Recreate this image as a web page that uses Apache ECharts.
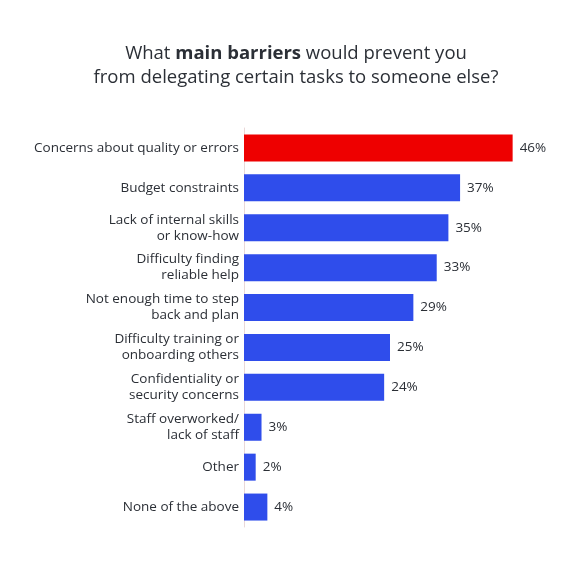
<!DOCTYPE html>
<html>
<head>
<meta charset="utf-8">
<script src="https://cdn.jsdelivr.net/npm/echarts@6/dist/echarts.min.js"></script>
<style>
  html, body { margin: 0; padding: 0; background: #fff; }
  #chart { width: 575px; height: 575px; }
</style>
</head>
<body>
<div id="chart"></div>
<script>
// categories top to bottom
const categories = [
  "Concerns about quality or errors",
  "Budget constraints",
  "Lack of internal skills\nor know-how",
  "Difficulty finding\nreliable help",
  "Not enough time to step\nback and plan",
  "Difficulty training or\nonboarding others",
  "Confidentiality or\nsecurity concerns",
  "Staff overworked/\nlack of staff",
  "Other",
  "None of the above"
];
const values = [46, 37, 35, 33, 29, 25, 24, 3, 2, 4];
const highlightIndex = 0;

const RED = "#ee0000";
const BLUE = "#2f4deb";
const TEXT = "#2b2f36";
const FONT = "Open Sans";

let chart = echarts.init(document.getElementById("chart"));

const options = {
  backgroundColor: "#fff",
  animation: false,
  title: {
    left: 291,
    textAlign: "center",
    top: 37,
    text: "{n|What }{b|main barriers}{n| would prevent you}\n{n|from delegating certain tasks to someone else?}",
    textStyle: {
      fontWeight: "normal",
      rich: {
        n: { fontSize: 18.5, color: TEXT, fontFamily: FONT, fontWeight: "normal", lineHeight: 24 },
        b: { fontSize: 18.5, color: TEXT, fontFamily: FONT, fontWeight: "bold", lineHeight: 24 }
      }
    }
  },
  grid: { left: 244, right: 39, top: 128, bottom: 48, containLabel: false },
  xAxis: {
    type: "value",
    min: 0,
    max: 50,
    show: false
  },
  yAxis: {
    type: "category",
    inverse: true,
    data: categories,
    axisLine: { show: true, lineStyle: { color: "#ead8d8", width: 1 } },
    axisTick: { show: false },
    axisLabel: {
      color: TEXT,
      fontSize: 13.5,
      fontFamily: FONT,
      lineHeight: 16,
      margin: 5,
      align: "right"
    }
  },
  series: [{
    type: "bar",
    data: values.map((v, i) => ({
      value: v,
      itemStyle: { color: i === highlightIndex ? RED : BLUE }
    })),
    barWidth: 27,
    label: {
      show: true,
      position: "right",
      distance: 7,
      formatter: "{c}%",
      color: TEXT,
      fontSize: 13.5,
      fontFamily: FONT
    }
  }]
};

chart.setOption(options);
</script>
</body>
</html>
